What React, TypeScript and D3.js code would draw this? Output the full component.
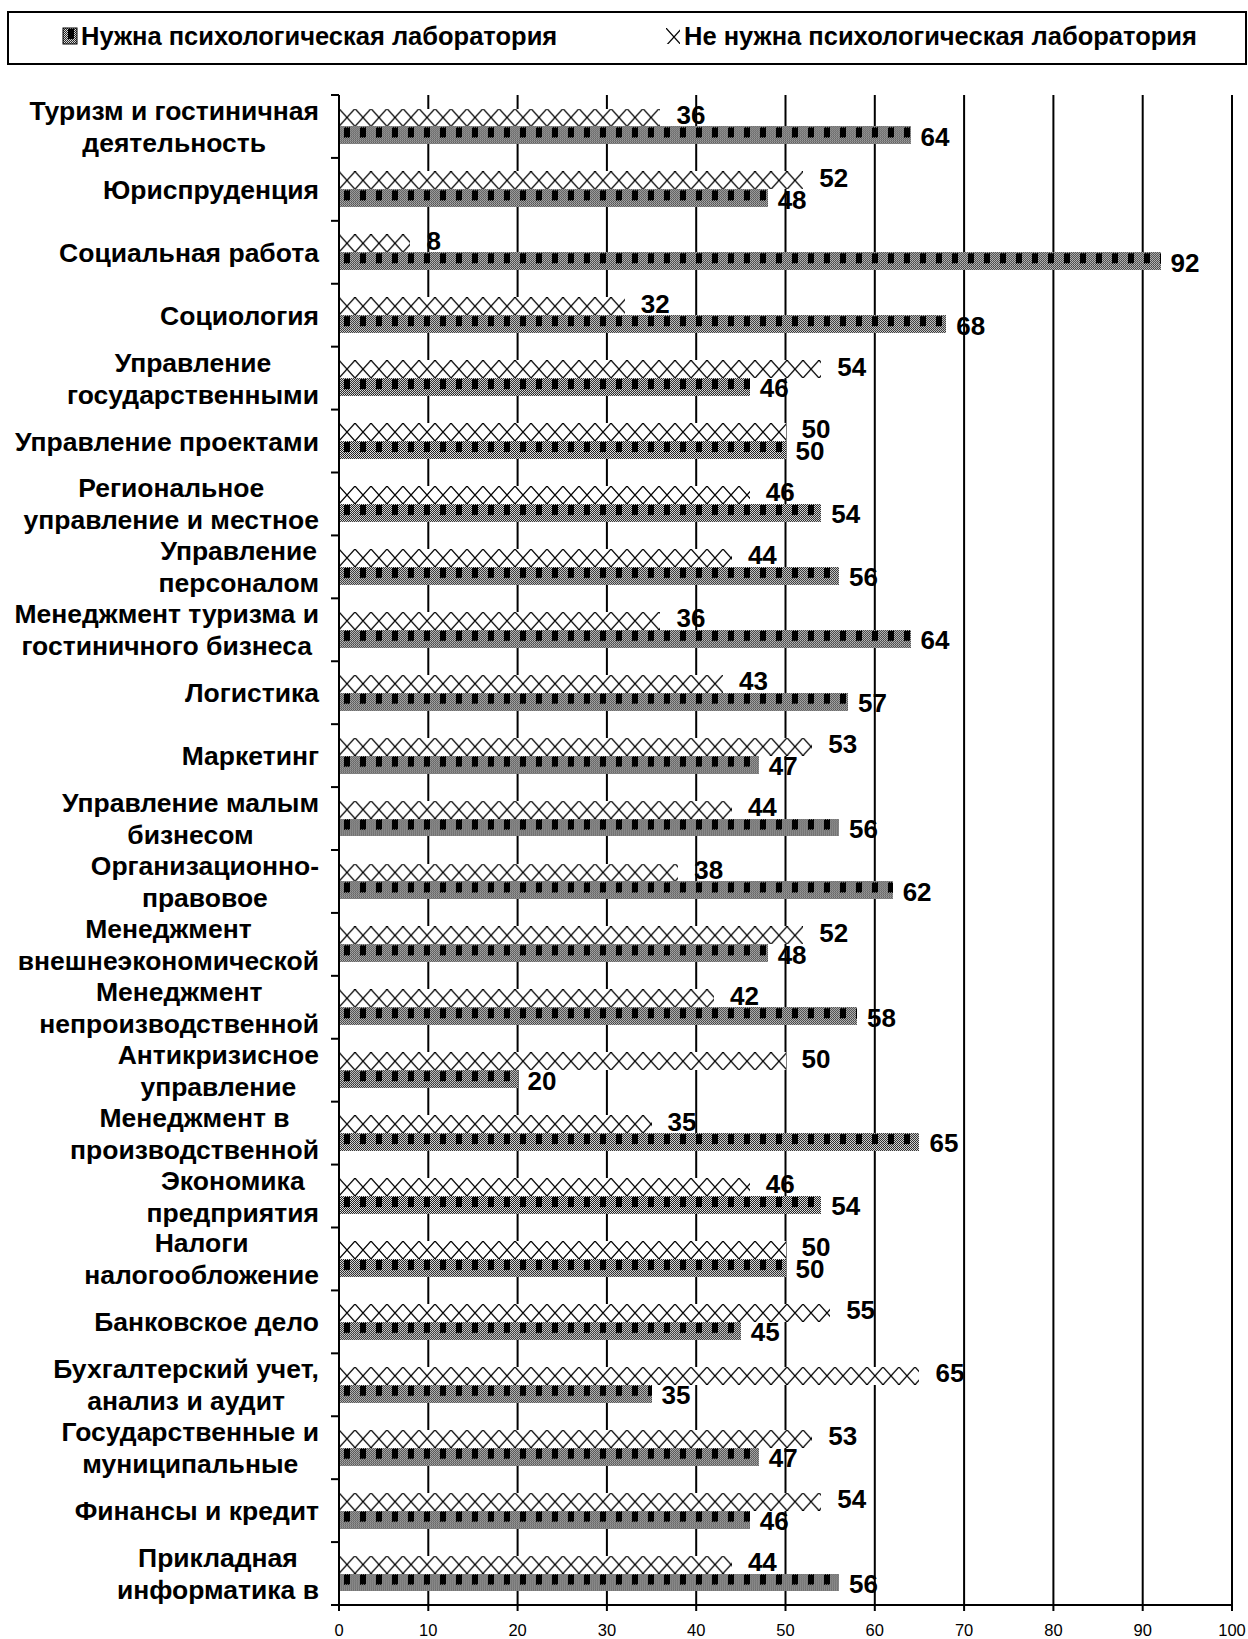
import React, { useRef, useEffect } from "react";
import * as d3 from "d3";

// rows top to bottom; each label is kept cut the way it is in the picture
const categories = [
  ["Туризм и гостиничная", "деятельность"],
  ["Юриспруденция"],
  ["Социальная работа"],
  ["Социология"],
  ["Управление", "государственными"],
  ["Управление проектами"],
  ["Региональное", "управление и местное"],
  ["Управление", "персоналом"],
  ["Менеджмент туризма и", "гостиничного бизнеса"],
  ["Логистика"],
  ["Маркетинг"],
  ["Управление малым", "бизнесом"],
  ["Организационно-", "правовое"],
  ["Менеджмент", "внешнеэкономической"],
  ["Менеджмент", "непроизводственной"],
  ["Антикризисное", "управление"],
  ["Менеджмент в", "производственной"],
  ["Экономика", "предприятия"],
  ["Налоги", "налогообложение"],
  ["Банковское дело"],
  ["Бухгалтерский учет,", "анализ и аудит"],
  ["Государственные и", "муниципальные"],
  ["Финансы и кредит"],
  ["Прикладная", "информатика в"],
];

const needLab = [64, 48, 92, 68, 46, 50, 54, 56, 64, 57, 47, 56, 62, 48, 58, 20, 65, 54, 50, 45, 35, 47, 46, 56];
const noNeedLab = [36, 52, 8, 32, 54, 50, 46, 44, 36, 43, 53, 44, 38, 52, 42, 50, 35, 46, 50, 55, 65, 53, 54, 44];

const legendNames = ["Нужна психологическая лаборатория", "Не нужна психологическая лаборатория"];
const xTicks = [0, 10, 20, 30, 40, 50, 60, 70, 80, 90, 100];

function App() {
  const svgRef = useRef<SVGSVGElement>(null);

  useEffect(() => {
    const svg = d3.select(svgRef.current);
    svg.selectAll("*").remove();

    const font = "'Liberation Sans', Arial, sans-serif";
    const left = 339, right = 1232, top = 95, bottom = 1605;

    const x = d3.scaleLinear().domain([0, 100]).range([left, right]);
    const y = d3.scaleBand<number>()
      .domain(categories.map((c, i) => i))
      .range([top, bottom])
      .paddingInner(0.43)
      .paddingOuter(0.215);
    const series = d3.scaleBand<string>().domain(["no", "need"]).range([0, y.bandwidth()]);
    const bw = series.bandwidth();
    const step = y.step();

    // fill patterns, like the old excel ones
    const defs = svg.append("defs");
    const fine = defs.append("pattern").attr("id", "fine")
      .attr("patternUnits", "userSpaceOnUse").attr("width", 2).attr("height", 2);
    fine.append("rect").attr("width", 2).attr("height", 2).attr("fill", "#fff");
    fine.append("rect").attr("width", 1).attr("height", 1).attr("fill", "#000");
    fine.append("rect").attr("x", 1).attr("y", 1).attr("width", 1).attr("height", 1).attr("fill", "#000");

    const need = defs.append("pattern").attr("id", "need")
      .attr("patternUnits", "userSpaceOnUse").attr("width", 16).attr("height", bw);
    need.append("rect").attr("width", 16).attr("height", bw).attr("fill", "url(#fine)");
    need.append("rect").attr("x", 5).attr("y", 1).attr("width", 6).attr("height", 10).attr("fill", "#000");

    const cross = defs.append("pattern").attr("id", "cross")
      .attr("patternUnits", "userSpaceOnUse").attr("width", 16).attr("height", bw);
    cross.append("rect").attr("width", 16).attr("height", bw).attr("fill", "#fff");
    cross.append("path")
      .attr("d", `M0,0L16,${bw}M16,0L0,${bw}`)
      .attr("stroke", "#000").attr("stroke-width", 1.2).attr("fill", "none");

    // legend
    svg.append("rect")
      .attr("x", 8).attr("y", 12).attr("width", 1238).attr("height", 52)
      .attr("fill", "none").attr("stroke", "#000").attr("stroke-width", 2);

    const legendX = [63, 666];
    legendNames.forEach((name, i) => {
      const g = svg.append("g").attr("transform", `translate(${legendX[i]},28)`);
      g.append("rect").attr("width", 14).attr("height", 16)
        .attr("fill", i === 0 ? "url(#need)" : "url(#cross)")
        .attr("stroke", i === 0 ? "#000" : "none").attr("stroke-width", 1);
      svg.append("text")
        .attr("x", legendX[i] + 18).attr("y", 45)
        .attr("font-family", font).attr("font-size", 25.5).attr("font-weight", "bold")
        .text(name);
    });

    // gridlines
    svg.append("g").selectAll("line").data(xTicks.slice(1)).join("line")
      .attr("x1", d => x(d)).attr("x2", d => x(d))
      .attr("y1", top).attr("y2", bottom + 6)
      .attr("stroke", "#000").attr("stroke-width", 2);

    // bars
    const barG = svg.append("g");
    categories.forEach((c, i) => {
      const vals: [string, number, string][] = [
        ["no", noNeedLab[i], "url(#cross)"],
        ["need", needLab[i], "url(#need)"],
      ];
      vals.forEach(([k, v, f]) => {
        barG.append("g")
          .attr("transform", `translate(${x(0)},${(y(i) as number) + (series(k) as number)})`)
          .append("rect")
          .attr("width", x(v) - x(0)).attr("height", bw)
          .attr("fill", f).attr("shape-rendering", "crispEdges");
      });
    });

    // value labels
    const labG = svg.append("g")
      .attr("font-family", font).attr("font-size", 26).attr("font-weight", "bold");
    categories.forEach((c, i) => {
      labG.append("text")
        .attr("x", x(noNeedLab[i]) + 16)
        .attr("y", (y(i) as number) + (series("no") as number) + bw / 2 - 3)
        .attr("dy", "0.36em")
        .text(noNeedLab[i]);
      labG.append("text")
        .attr("x", x(needLab[i]) + 10)
        .attr("y", (y(i) as number) + (series("need") as number) + bw / 2 + 1)
        .attr("dy", "0.36em")
        .text(needLab[i]);
    });

    // y axis
    svg.append("line")
      .attr("x1", left).attr("x2", left).attr("y1", top).attr("y2", bottom + 6)
      .attr("stroke", "#000").attr("stroke-width", 2);
    svg.append("g").selectAll("line").data(d3.range(categories.length + 1)).join("line")
      .attr("x1", left - 8).attr("x2", left)
      .attr("y1", d => top + d * step).attr("y2", d => top + d * step)
      .attr("stroke", "#000").attr("stroke-width", 2);

    // x axis
    svg.append("line")
      .attr("x1", left - 8).attr("x2", right).attr("y1", bottom).attr("y2", bottom)
      .attr("stroke", "#000").attr("stroke-width", 2);
    svg.append("g").selectAll("line").data(xTicks.slice(0, 1)).join("line")
      .attr("x1", d => x(d)).attr("x2", d => x(d)).attr("y1", bottom).attr("y2", bottom + 6)
      .attr("stroke", "#000").attr("stroke-width", 2);
    svg.append("g").selectAll("text").data(xTicks).join("text")
      .attr("x", d => x(d)).attr("y", 1636)
      .attr("text-anchor", "middle")
      .attr("font-family", font).attr("font-size", 16.5)
      .text(d => d);

    // category labels: block right-aligned, lines centred inside the block
    const catG = svg.append("g")
      .attr("font-family", font).attr("font-size", 26.5).attr("font-weight", "bold");
    categories.forEach((lines, i) => {
      const center = (y(i) as number) + y.bandwidth() / 2;
      const texts = lines.map((line, j) =>
        catG.append("text")
          .attr("y", center + (j - (lines.length - 1) / 2) * 32)
          .attr("dy", "0.36em")
          .attr("text-anchor", "middle")
          .text(line)
      );
      const widest = d3.max(texts, t => (t.node() as SVGTextElement).getComputedTextLength()) || 0;
      texts.forEach(t => t.attr("x", 319 - widest / 2));
    });
  }, []);

  return (
    <React.Fragment>
      <style>{"body{margin:0}"}</style>
      <svg ref={svgRef} width={1248} height={1639} style={{ display: "block", background: "#fff" }} />
    </React.Fragment>
  );
}

export default App;
